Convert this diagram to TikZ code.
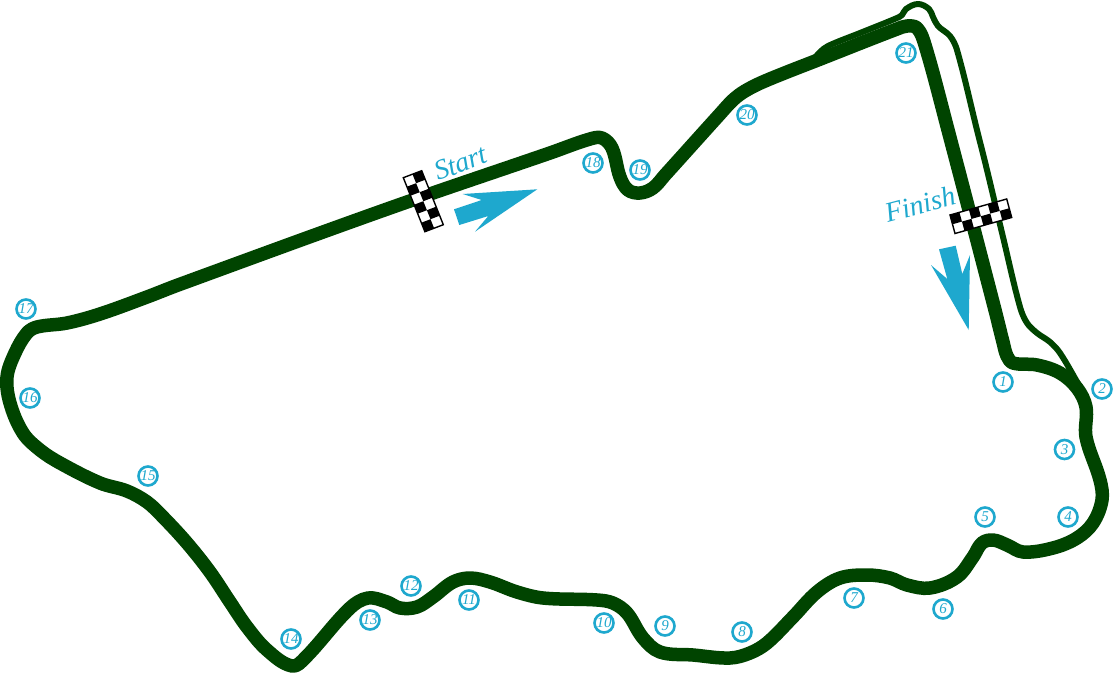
\documentclass[tikz,border=0pt]{standalone}
\usepackage{fontspec}
\setmainfont{Liberation Serif}
\definecolor{trackgreen}{RGB}{0,68,0}
\definecolor{markblue}{RGB}{30,168,206}
\tikzset{
  x=1pt,y=-1pt,
  track/.style={draw=trackgreen,line width=13.5pt,line join=round},
  pitlane/.style={draw=trackgreen,line width=6pt,line join=round,line cap=round},
  turn/.style={circle,draw=markblue,line width=2.6pt,fill=white,minimum size=19pt,inner sep=0pt,text=markblue,font=\itshape\fontsize{15}{15}\selectfont},
  caption/.style={text=markblue,inner sep=0pt,font=\itshape\fontsize{28}{28}\selectfont},
  direction/.style={fill=markblue,draw=none},
  flagframe/.style={draw=black,line width=1.4pt,fill=white,line join=miter},
}
\makeatletter
\newcommand\loadpts[1]{\foreach \ptx/\pty [count=\ptn] in {#1}{%
  \expandafter\xdef\csname px\ptn\endcsname{\ptx}%
  \expandafter\xdef\csname py\ptn\endcsname{\pty}%
  \xdef\npts{\ptn}}}
\newcommand\pathtangent[4]{% index, closed flag, out x, out y
  \ifnum#2=1
    \pgfmathtruncatemacro\pvi{mod(#1-2+\npts,\npts)+1}%
    \pgfmathtruncatemacro\nxi{mod(#1,\npts)+1}%
  \else
    \pgfmathtruncatemacro\pvi{max(#1-1,1)}%
    \pgfmathtruncatemacro\nxi{min(#1+1,\npts)}%
  \fi
  \pgfmathsetmacro\tgx{\csname px\nxi\endcsname-\csname px\pvi\endcsname}%
  \pgfmathsetmacro\tgy{\csname py\nxi\endcsname-\csname py\pvi\endcsname}%
  \pgfmathsetmacro\tgl{veclen(\tgx,\tgy)}%
  \pgfmathsetmacro#3{\tgx/\tgl}%
  \pgfmathsetmacro#4{\tgy/\tgl}}
\newcommand\buildpath[2]{% target macro, closed flag
  \xdef#1{(\csname px1\endcsname,\csname py1\endcsname)}%
  \pgfmathtruncatemacro\lastseg{ifthenelse(#2==1,\npts,\npts-1)}%
  \foreach \segi in {1,...,\lastseg}{%
    \pgfmathtruncatemacro\segj{mod(\segi,\npts)+1}%
    \pathtangent{\segi}{#2}\tax\tay
    \pathtangent{\segj}{#2}\tbx\tby
    \edef\pix{\csname px\segi\endcsname}\edef\piy{\csname py\segi\endcsname}%
    \edef\pjx{\csname px\segj\endcsname}\edef\pjy{\csname py\segj\endcsname}%
    \pgfmathsetmacro\segd{veclen(\pjx-\pix,\pjy-\piy)/3}%
    \pgfmathsetmacro\cax{\pix+\tax*\segd}%
    \pgfmathsetmacro\cay{\piy+\tay*\segd}%
    \pgfmathsetmacro\cbx{\pjx-\tbx*\segd}%
    \pgfmathsetmacro\cby{\pjy-\tby*\segd}%
    \xdef#1{#1 .. controls (\cax,\cay) and (\cbx,\cby) .. (\pjx,\pjy)}%
  }%
  \ifnum#2=1 \xdef#1{#1 -- cycle}\fi}
\makeatother
\begin{document}
\begin{tikzpicture}
\fill[white] (0,0) rectangle (1114,673);
\useasboundingbox (0,0) rectangle (1114,673);
% pit lane
\loadpts{813/60,820/52,828/46,860/33,897/18,902/15,906/9,918/4,929/9,933/17,938/26,950/36,957/50,977/130,987/170,1003/237,1020/307,1027/323,1037/333,1050/342,1060/353,1080/387}
\buildpath{\pitpath}{0}
\draw[pitlane] \pitpath;
% track
\loadpts{925/45,948/130,995/310,1003/342,1007/356,1013/363,1037/365,1060/373,1077/388,1086/407,1086/437,1100/480,1102/500,1093/523,1077/538,1053/548,1023/552,1007/545,993/540,982/543,973/557,957/577,930/588,907/585,890/578,867/575,840/578,817/592,793/617,767/643,750/653,730/658,693/655,660/652,643/638,627/613,613/603,597/600,543/598,517/592,490/582,470/578,453/582,433/597,417/607,400/608,387/602,368/598,350/608,305/658,292/666,267/650,247/627,230/602,210/572,187/543,163/517,147/502,127/491,100/483,60/463,40/450,23/433,10/403,7/377,15/353,27/333,37/327,67/323,100/314,147/297,178/285,390/208,550/153,590/139,602/138,612/148,620/177,628/190,640/193,653/188,665/175,720/114,733/100,745/91,765/81,823/58,897/29,907/26,917/28}
\buildpath{\trackpath}{1}
\draw[track] \trackpath;
% start flag
\begin{scope}[shift={(403.3,177.7)},x={(9.2pt,3.5pt)},y={(3.6pt,-9pt)}]
\draw[flagframe] (0,0) -- (2,0) -- (2,6) -- (0,6) -- cycle;
\foreach \row in {0,...,5}{
  \pgfmathtruncatemacro{\col}{mod(\row+1,2)}
  \fill[black] (\col,\row) -- ++(1,0) -- ++(0,1) -- ++(-1,0) -- cycle;
}
\end{scope}
% finish flag
\begin{scope}[shift={(950,215)},x={(9.45pt,2.67pt)},y={(2.5pt,-9.25pt)}]
\draw[flagframe] (0,0) -- (6,0) -- (6,2) -- (0,2) -- cycle;
\foreach \col in {0,...,5}{
  \pgfmathtruncatemacro{\row}{mod(\col,2)}
  \fill[black] (\col,\row) -- ++(1,0) -- ++(0,1) -- ++(-1,0) -- cycle;
}
\end{scope}
% direction arrows
\fill[direction] (454,209.3) -- (481.7,200) -- (462.7,194) -- (537.3,189.3) -- (475,231.7) -- (488.3,216) -- (459.3,225) -- cycle;
\fill[direction] (939,249.3) -- (955.7,245.7) -- (962.3,274) -- (970,255) -- (968.7,330) -- (931,265) -- (947.3,279) -- cycle;
% captions
\node[caption,rotate=20] (startlabel) at (460.5,163) {Start};
\node[caption,rotate=15] (finishlabel) at (920,204) {Finish};
% turn numbers
\node[turn] (t1) at (1003,382) {1};
\node[turn] (t2) at (1102,389) {2};
\node[turn] (t3) at (1064.5,449.5) {3};
\node[turn] (t4) at (1068,517) {4};
\node[turn] (t5) at (985,517) {5};
\node[turn] (t6) at (943,609) {6};
\node[turn] (t7) at (854,598) {7};
\node[turn] (t8) at (742,632) {8};
\node[turn] (t9) at (665,626) {9};
\node[turn] (t10) at (604,623) {10};
\node[turn] (t11) at (469,600) {11};
\node[turn] (t12) at (411,586) {12};
\node[turn] (t13) at (370,620) {13};
\node[turn] (t14) at (291,639) {14};
\node[turn] (t15) at (148,476) {15};
\node[turn] (t16) at (30,398) {16};
\node[turn] (t17) at (26,309) {17};
\node[turn] (t18) at (593,163) {18};
\node[turn] (t19) at (640,170) {19};
\node[turn] (t20) at (747,115) {20};
\node[turn] (t21) at (906,53) {21};
\end{tikzpicture}
\end{document}
